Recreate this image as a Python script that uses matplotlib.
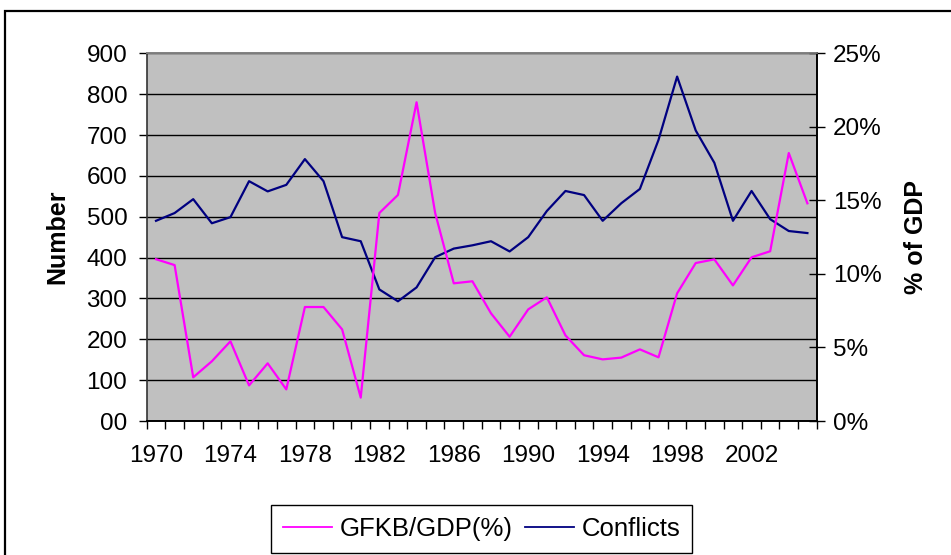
import matplotlib
matplotlib.use("Agg")
import matplotlib.pyplot as plt
from matplotlib.patches import Rectangle
from matplotlib.lines import Line2D
from matplotlib.ticker import FixedLocator, FuncFormatter

years = list(range(1970, 2006))
conflicts = [490, 509, 543, 484, 499, 587, 562, 578, 641, 587,
             450, 440, 322, 293, 327, 401, 422, 430, 440, 415,
             450, 514, 563, 553, 490, 533, 568, 688, 843, 711,
             632, 490, 563, 494, 465, 460]
gfkb_gdp = [11.0, 10.6, 2.97, 4.06, 5.42, 2.42, 3.92, 2.15, 7.75, 7.75,
            6.23, 1.59, 14.14, 15.37, 21.67, 14.14, 9.36, 9.50, 7.32, 5.73,
            7.59, 8.41, 5.82, 4.47, 4.19, 4.31, 4.87, 4.33, 8.68, 10.74,
            10.99, 9.22, 11.13, 11.54, 18.22, 14.8]
left_ticks = [0, 100, 200, 300, 400, 500, 600, 700, 800, 900]
left_labels = ["00", "100", "200", "300", "400", "500", "600", "700", "800", "900"]
right_ticks = [0, 5, 10, 15, 20, 25]
label_years = [1970, 1974, 1978, 1982, 1986, 1990, 1994, 1998, 2002]

plt.rcParams['font.family'] = ['Liberation Sans', 'DejaVu Sans']
FS = 17.5

W, H = 951, 555
fig = plt.figure(figsize=(W / 100, H / 100), dpi=100)
L, R, T, B = 146.7, 816.7, 53.3, 421.0
ax = fig.add_axes([L / W, 1 - B / H, (R - L) / W, (B - T) / H])
ax.set_facecolor("#C0C0C0")

x = list(range(len(years)))
ax2 = ax.twinx()

ax.plot(x, conflicts, color="#000080", lw=1.6, zorder=3)
ax2.plot(x, gfkb_gdp, color="#FF00FF", lw=1.6, zorder=3)
ax.set_zorder(1)
ax2.set_zorder(2)
ax.patch.set_visible(True)
ax2.patch.set_visible(False)

ax.set_xlim(-0.5, len(years) - 0.5)
ax.set_ylim(0, 900)
ax2.set_ylim(0, 25)

ax.set_yticks(left_ticks)
ax.set_yticklabels(left_labels)
ax.yaxis.grid(True, color="black", lw=1.0)
ax.set_axisbelow(True)

ax2.set_yticks(right_ticks)
ax2.yaxis.set_major_formatter(FuncFormatter(lambda v, p: f"{int(v)}%"))

ax.set_xticks([years.index(y) for y in label_years])
ax.set_xticklabels([str(y) for y in label_years])
ax.xaxis.set_minor_locator(FixedLocator([i - 0.5 for i in range(len(years) + 1)]))
ax.tick_params(axis="x", which="major", length=0, pad=17, labelsize=FS)
ax.tick_params(axis="x", which="minor", length=6, width=1, direction="out", color="black")
ax.tick_params(axis="y", which="major", length=6, width=1, direction="out", pad=8, labelsize=FS)
ax2.tick_params(axis="y", which="major", length=11, width=1, direction="inout", pad=6, labelsize=FS)
ax2.tick_params(axis="x", length=0)

ax.spines["top"].set_color("#808080")
ax2.spines["top"].set_color("#808080")
ax.spines["left"].set_color("#333333")
ax2.spines["right"].set_color("black")
ax2.spines["left"].set_visible(False)
for a in (ax, ax2):
    for sp in a.spines.values():
        sp.set_linewidth(1.2)

ax.set_ylabel("Number", fontsize=18, fontweight="bold", labelpad=12)
ax2.set_ylabel("% of GDP", fontsize=18, fontweight="bold", labelpad=16)

handles = [Line2D([], [], color="#FF00FF", lw=1.3), Line2D([], [], color="#000080", lw=1.3)]
leg = fig.legend(handles, ["GFKB/GDP(%)", "Conflicts"], loc="center",
                 bbox_to_anchor=(481.7 / W, 1 - 529 / H), ncol=2, fontsize=18.5,
                 frameon=True, fancybox=False, edgecolor="black", framealpha=1,
                 handlelength=1.9, handletextpad=0.3, columnspacing=0.5,
                 borderpad=0.45, borderaxespad=0)
leg.get_frame().set_linewidth(1.0)

fig.patches.append(Rectangle((5 / W, -0.05), 1.1, 1 - 10.5 / H + 0.05,
                             transform=fig.transFigure, fill=False,
                             edgecolor="black", lw=1.6))

fig.savefig("out.png", dpi=100)
